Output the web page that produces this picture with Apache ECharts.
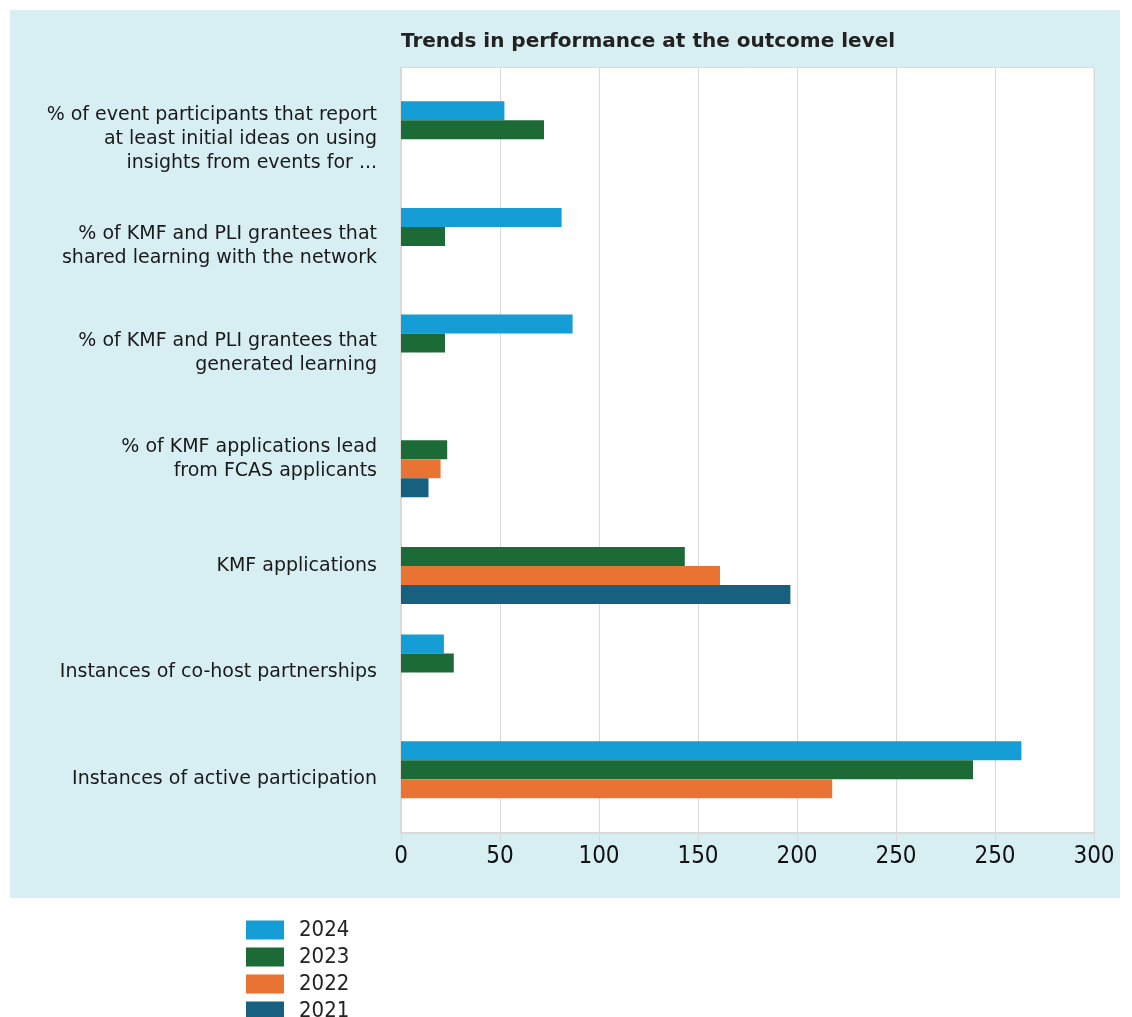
<!DOCTYPE html>
<html>
<head>
<meta charset="utf-8">
<script src="https://cdn.jsdelivr.net/npm/echarts@6/dist/echarts.min.js"></script>
<style>
html,body{margin:0;padding:0;background:#fff;}
#chart{width:1132px;height:1017px;}
</style>
</head>
<body>
<div id="chart"></div>
<script>
const categories = [
  '% of event participants that report\nat least initial ideas on using\ninsights from events for ...',
  '% of KMF and PLI grantees that\nshared learning with the network',
  '% of KMF and PLI grantees that\ngenerated learning',
  '% of KMF applications lead\nfrom FCAS applicants',
  'KMF applications',
  'Instances of co-host partnerships',
  'Instances of active participation'
];
const years = ['2024', '2023', '2022', '2021'];
const v2024 = [47, 73, 78, null, null, 19.5, 282];
const v2023 = [65, 20, 20, 21, 129, 24, 260];
const v2022 = [null, null, null, 18, 145, null, 196];
const v2021 = [null, null, null, 12.5, 177, null, null];
const tickLabels = ['0', '50', '100', '150', '200', '250', '250', '300'];
const colors = ['#159dd6', '#1c6b37', '#e97333', '#17607f'];

const FONT = 'DejaVu Sans Condensed';
const chart = echarts.init(document.getElementById('chart'));
const seriesData = [v2024, v2023, v2022, v2021];

chart.setOption({
  animation: false,
  textStyle: { fontFamily: FONT },
  graphic: [{
    type: 'rect', z: -10, silent: true,
    shape: { x: 10, y: 10, width: 1110, height: 888 },
    style: { fill: '#d7eef2' }
  }],
  title: {
    text: 'Trends in performance at the outcome level',
    left: 396, top: 27,
    textStyle: { fontFamily: 'DejaVu Sans', fontWeight: 'bold', fontSize: 20, color: '#222' }
  },
  legend: {
    orient: 'vertical', left: 246, top: 919, height: 200, padding: 0,
    itemWidth: 38, itemHeight: 19, itemGap: 5,
    icon: 'rect',
    data: years,
    textStyle: { fontFamily: FONT, fontSize: 22, color: '#222', padding: [0, 0, 0, 10] }
  },
  grid: [
    { left: 401, top: 67.5, width: 693, height: 765, show: true, backgroundColor: '#ffffff', borderColor: '#dcdcdc', borderWidth: 1 },
    { left: 401, top: 86, width: 693, height: 746.5 }
  ],
  xAxis: [
    {
      gridIndex: 0, type: 'value', min: 0, max: 315, interval: 45,
      axisLine: { show: true, lineStyle: { color: '#d9d9d9', width: 2 } },
      axisTick: { show: true, length: 10, lineStyle: { color: '#d9d9d9' } },
      splitLine: { show: true, lineStyle: { color: '#d9d9d9', width: 1 } },
      axisLabel: {
        margin: 12, fontFamily: FONT, fontSize: 24, color: '#111',
        formatter: v => tickLabels[Math.round(v / 45)]
      }
    },
    {
      gridIndex: 1, type: 'value', min: 0, max: 315, interval: 45, show: false
    }
  ],
  yAxis: [
    {
      gridIndex: 0, type: 'value', min: 0, max: 1,
      axisLine: { show: true, lineStyle: { color: '#d9d9d9', width: 2 } },
      axisTick: { show: false }, axisLabel: { show: false }, splitLine: { show: false }
    },
    {
      gridIndex: 1, type: 'category', inverse: true, data: categories,
      axisLine: { show: false }, axisTick: { show: false },
      axisLabel: { margin: 24, fontFamily: 'DejaVu Sans', fontSize: 19, lineHeight: 24, color: '#1a1a1a', align: 'right' }
    }
  ],
  series: years.map((y, i) => ({
    name: y, type: 'bar', xAxisIndex: 1, yAxisIndex: 1,
    data: seriesData[i],
    barWidth: 19, barGap: '0%',
    itemStyle: { color: colors[i] }
  }))
});
</script>
</body>
</html>
